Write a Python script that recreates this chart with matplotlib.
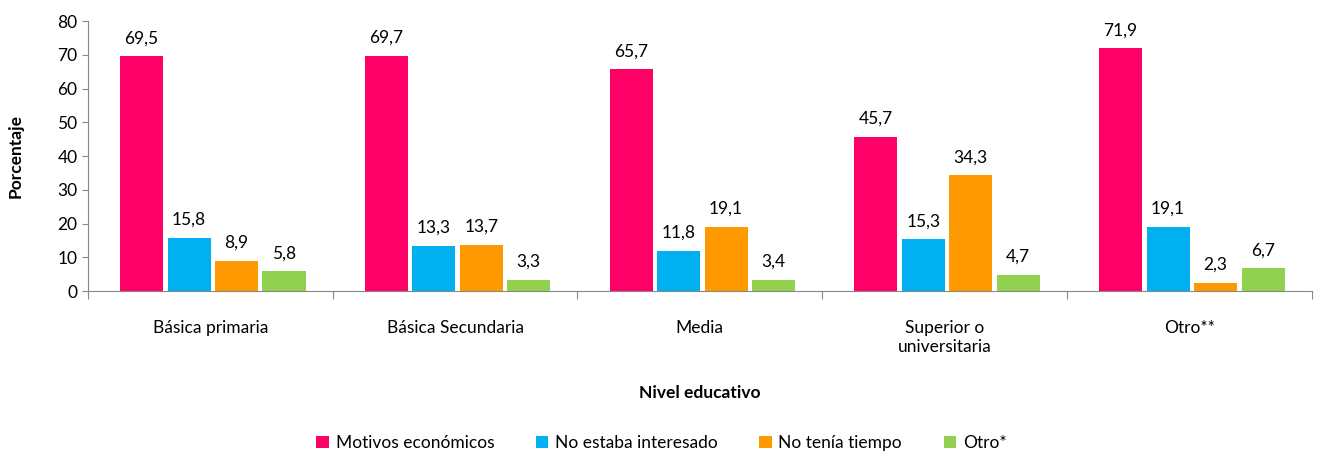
import numpy as np
import matplotlib.pyplot as plt

plt.rcParams['font.family'] = ['Lato', 'DejaVu Sans']

categories = ["Básica primaria", "Básica Secundaria", "Media", "Superior o\nuniversitaria", "Otro**"]
series_names = ["Motivos económicos", "No estaba interesado", "No tenía tiempo", "Otro*"]
economicos = [69.5, 69.7, 65.7, 45.7, 71.9]
no_interesado = [15.8, 13.3, 11.8, 15.3, 19.1]
no_tiempo = [8.9, 13.7, 19.1, 34.3, 2.3]
otro = [5.8, 3.3, 3.4, 4.7, 6.7]
colors = ["#FF0066", "#00B0F0", "#FF9900", "#92D050"]

fig = plt.figure(figsize=(13.23, 4.53), dpi=100)
ax = fig.add_axes([0.0665, 0.3576, 0.925, 0.596])

x = np.arange(len(categories))
step = 0.194
width = 0.176
offsets = [-1.5 * step, -0.5 * step, 0.5 * step, 1.5 * step]
handles = []
for vals, off, col, name in zip([economicos, no_interesado, no_tiempo, otro], offsets, colors, series_names):
    b = ax.bar(x + off + 0.01, vals, width, color=col, label=name)
    handles.append(b)
    for xi, v in zip(x + off + 0.01, vals):
        ax.text(xi, v + 3, f"{v:.1f}".replace(".", ","), ha="center", va="bottom", fontsize=12.5)

ax.set_xlim(-0.5, len(categories) - 0.5)
ax.set_ylim(0, 80)
ax.set_yticks(range(0, 81, 10))
ax.set_xticks(np.arange(-0.5, len(categories), 1.0))
ax.set_xticklabels([])
ax.set_xticks(x, minor=True)
ax.set_xticklabels(categories, minor=True, fontsize=12.5)
ax.tick_params(axis="x", which="minor", length=0, pad=21)
ax.tick_params(axis="x", which="major", length=6, color="#888888")
ax.tick_params(axis="y", length=4, color="#888888", labelsize=12.5)
for s in ["top", "right"]:
    ax.spines[s].set_visible(False)
for s in ["left", "bottom"]:
    ax.spines[s].set_color("#888888")

ax.set_ylabel("Porcentaje", fontsize=12.5, fontweight="bold", labelpad=24)
ax.set_xlabel("Nivel educativo", fontsize=12.5, fontweight="bold", labelpad=22)

fig.legend(handles=handles, loc="lower center", ncol=4, frameon=False, fontsize=12.5,
           bbox_to_anchor=(0.5, -0.03), handlelength=0.7, handleheight=0.7,
           handletextpad=0.4, columnspacing=2.4)

fig.savefig("out.png", dpi=100)
